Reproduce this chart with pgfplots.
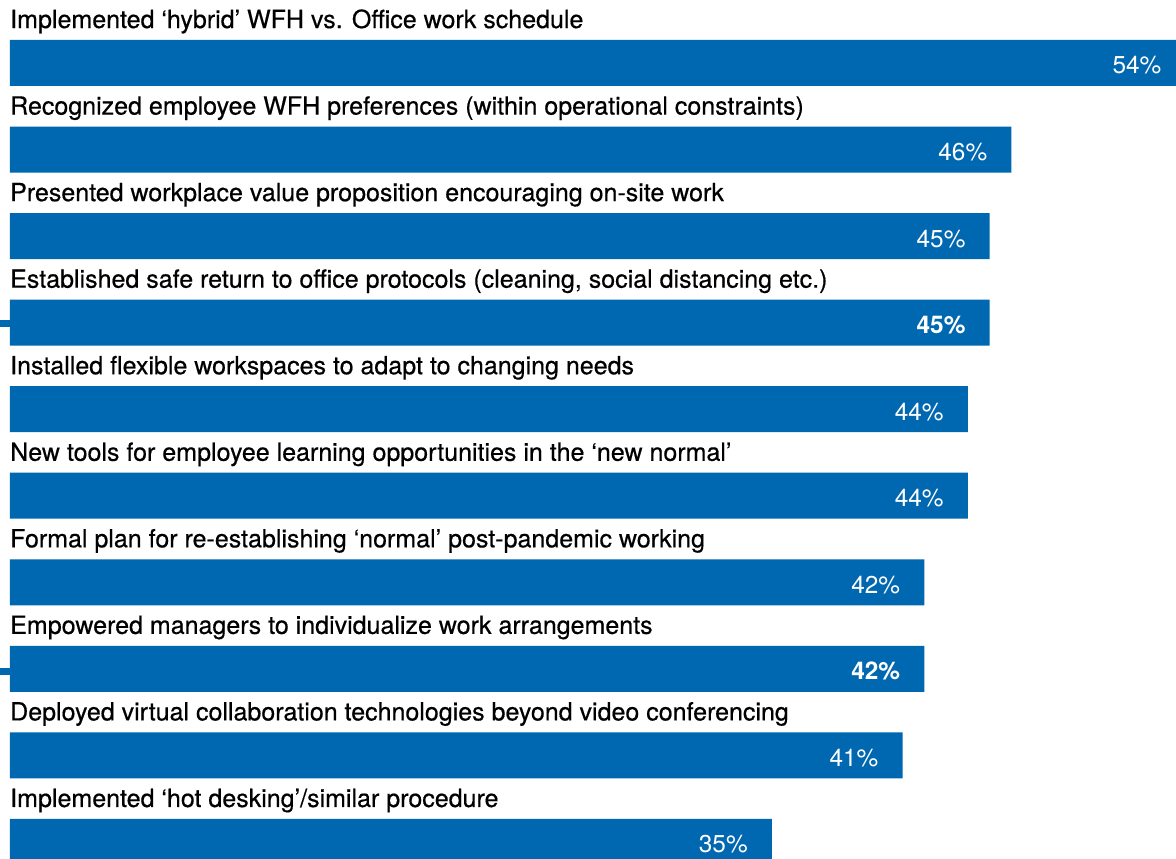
\documentclass[border=0pt]{standalone}
\usepackage{fontspec}
\setmainfont{TeX Gyre Heros}
\newfontfamily\labelfont[FakeBold=0.5]{TeX Gyre Heros}
\usepackage{pgfplots}
\pgfplotsset{compat=1.18}
\definecolor{barblue}{RGB}{0,103,177}
\begin{document}
\fontsize{21}{25}\selectfont
\begin{tikzpicture}
\begin{axis}[
    scale only axis,
    width=1176bp, height=859bp,
    xmin=-0.4593, xmax=53.56,
    ymin=-9.197, ymax=0.728,
    axis lines=none,
    clip=false,
]
\addplot[xbar, bar width=46bp, bar shift=0pt, fill=barblue, draw=none,
    point meta=explicit symbolic,
    nodes near coords,
    every node near coord/.style={anchor=base east, xshift=-24bp, yshift=-11bp,
        text=white, font=\fontsize{24.5}{28}\selectfont, inner sep=0pt},
] coordinates {
    (54,0) [54\%]
    (46,-1) [46\%]
    (45,-2) [45\%]
    (45,-3) [\textbf{45\%}]
    (44,-4) [44\%]
    (44,-5) [44\%]
    (42,-6) [42\%]
    (42,-7) [\textbf{42\%}]
    (41,-8) [41\%]
    (35,-9) [35\%]
};
% small markers at the left edge of the highlighted rows
\addplot[barblue, line width=7bp, mark=none, forget plot]
    coordinates {(-0.4593,-3.01) (0,-3.01)};
\addplot[barblue, line width=7bp, mark=none, forget plot]
    coordinates {(-0.4593,-7.03) (0,-7.03)};
\foreach \t [count=\i from 0] in {
    {Implemented ‘hybrid’ WFH vs. Office work schedule},
    {Recognized employee WFH preferences (within operational constraints)},
    {Presented workplace value proposition encouraging on-site work},
    {Established safe return to office protocols (cleaning, social distancing etc.)},
    {Installed flexible workspaces to adapt to changing needs},
    {New tools for employee learning opportunities in the ‘new normal’},
    {Formal plan for re-establishing ‘normal’ post-pandemic working},
    {Empowered managers to individualize work arrangements},
    {Deployed virtual collaboration technologies beyond video conferencing},
    {Implemented ‘hot desking’/similar procedure}} {
    \edef\temp{\noexpand\node[anchor=base west, inner sep=0pt, text=black,
        font=\noexpand\labelfont\noexpand\fontsize{25.1}{28}\noexpand\selectfont]
        at (axis cs:0,{-\i+0.404}) {\unexpanded\expandafter{\t}};}
    \temp
}
\end{axis}
\pgfresetboundingbox
\path (current axis.south west) rectangle (current axis.north east);
\end{tikzpicture}
\end{document}
